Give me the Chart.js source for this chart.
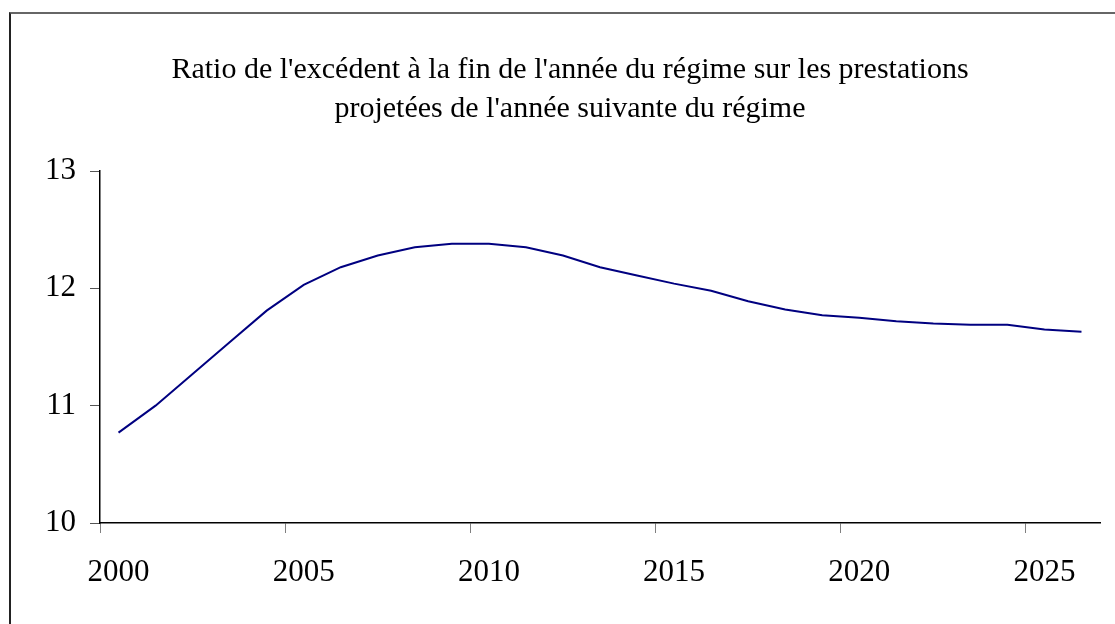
<!DOCTYPE html>
<html>
<head>
<meta charset="utf-8">
<script src="https://cdn.jsdelivr.net/npm/chart.js@4.4.1/dist/chart.umd.min.js"></script>
<style>
  body { margin: 0; background: #fff; }
  #wrap { position: relative; width: 1115px; height: 624px; overflow: hidden; }
  #frame { position: absolute; left: 9px; top: 12px; width: 1200px; height: 700px;
           border-top: 2px solid #666; border-left: 2px solid #222; }
  #chart { position: absolute; left: 0; top: 0; }
</style>
</head>
<body>
<div id="wrap">
  <div id="frame"></div>
  <canvas id="chart" width="1115" height="624"></canvas>
</div>
<script>
const years = [2000, 2001, 2002, 2003, 2004, 2005, 2006, 2007, 2008, 2009,
               2010, 2011, 2012, 2013, 2014, 2015, 2016, 2017, 2018, 2019,
               2020, 2021, 2022, 2023, 2024, 2025, 2026];
const ratio = [10.77, 11.00, 11.27, 11.54, 11.81, 12.03, 12.18, 12.28, 12.35, 12.38,
               12.38, 12.35, 12.28, 12.18, 12.11, 12.04, 11.98, 11.89, 11.82, 11.77,
               11.75, 11.72, 11.70, 11.69, 11.69, 11.65, 11.63];
const titleLines = ["Ratio de l'excédent à la fin de l'année du régime sur les prestations",
                    "projetées de l'année suivante du régime"];

const serif = "'Liberation Serif', 'Times New Roman', serif";

const ctx = document.getElementById('chart');

new Chart(ctx, {
    type: 'line',
    data: {
        labels: years,
        datasets: [{
            data: ratio,
            borderColor: '#000080',
            borderWidth: 2,
            pointRadius: 0,
            tension: 0,
            fill: false
        }]
    },
    options: {
        responsive: false,
        animation: false,
        layout: { padding: { left: 40, right: 15, top: 0, bottom: 0 } },
        plugins: {
            legend: { display: false },
            tooltip: { enabled: false },
            title: {
                display: true,
                text: titleLines,
                color: '#000',
                font: { family: serif, size: 30, weight: 'normal', lineHeight: 1.3 },
                padding: { top: 51, bottom: 42 }
            }
        },
        scales: {
            x: {
                type: 'category',
                offset: true,
                grid: {
                    offset: true,
                    drawOnChartArea: false,
                    drawTicks: true,
                    tickLength: 10,
                    color: c => (c.index % 5 === 0 ? '#808080' : 'rgba(0,0,0,0)')
                },
                border: { display: true, color: '#000', width: 1.5 },
                ticks: {
                    autoSkip: false,
                    maxRotation: 0,
                    padding: 21,
                    color: '#000',
                    font: { family: serif, size: 31 },
                    callback: (v, i) => (i % 5 === 0 ? years[i] : '')
                },
                afterFit: s => { s.height = 101; }
            },
            y: {
                min: 10,
                max: 13,
                ticks: {
                    stepSize: 1,
                    padding: 14,
                    color: '#000',
                    font: { family: serif, size: 31 }
                },
                grid: {
                    drawOnChartArea: false,
                    drawTicks: true,
                    tickLength: 10,
                    color: '#555'
                },
                border: { display: true, color: '#000', width: 1.5 },
                afterFit: s => { s.width = 60; }
            }
        }
    }
});
</script>
</body>
</html>
